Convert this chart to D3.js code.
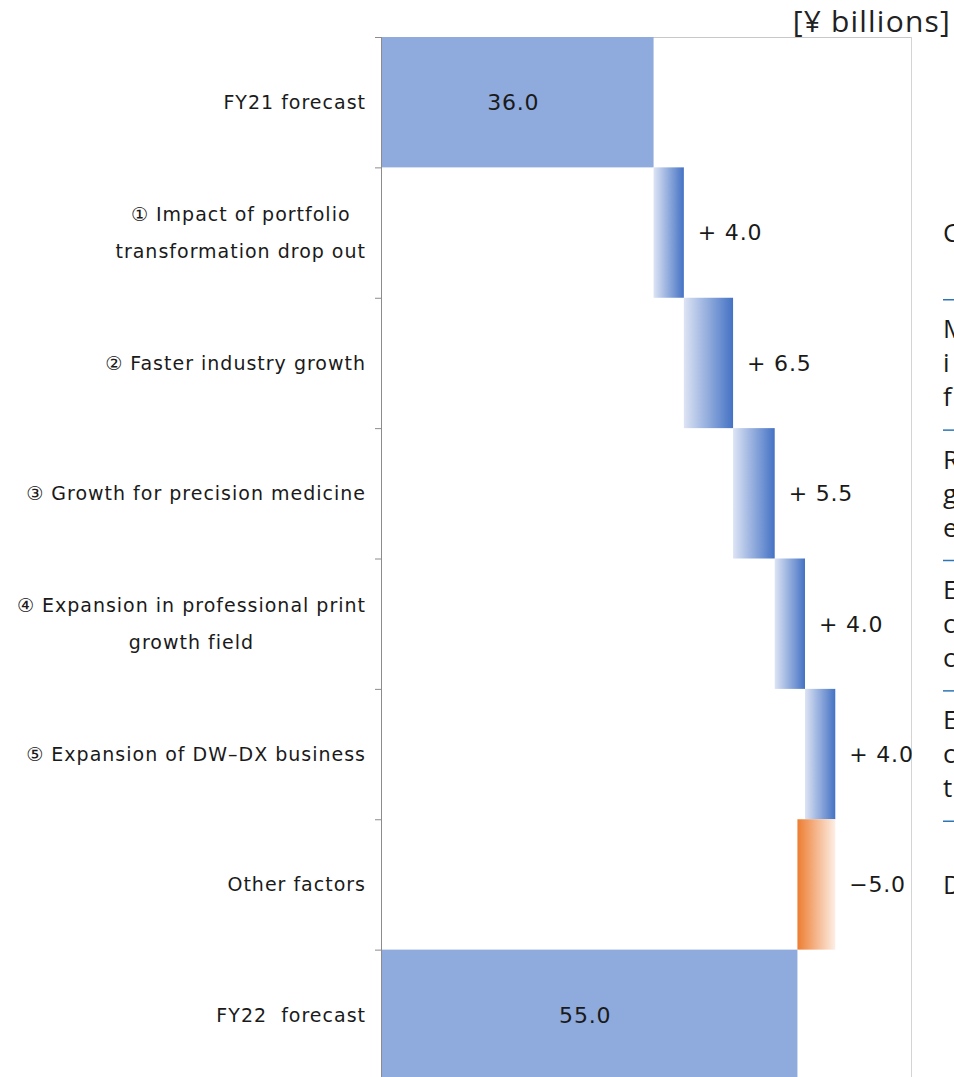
<!DOCTYPE html>
<html>
<head>
<meta charset="utf-8">
<script src="https://cdn.jsdelivr.net/npm/d3@7"></script>
<style>
  html, body { margin: 0; padding: 0; background: #fff; overflow: hidden; }
  svg { display: block; }
</style>
</head>
<body>
<svg id="chart" width="954" height="1077"></svg>
<script>
// categories (each label can be split over several lines)
var categories = [
    ['FY21 forecast'],
    ['\u2460 Impact of portfolio', 'transformation drop out'],
    ['\u2461 Faster industry growth'],
    ['\u2462 Growth for precision medicine'],
    ['\u2463 Expansion in professional print', 'growth field'],
    ['\u2464 Expansion of DW\u2013DX business'],
    ['Other factors'],
    ['FY22\u00a0 forecast']
];
// 'total' bars start at zero, 'delta' bars float on the running sum
var kinds  = ['total', 'delta', 'delta', 'delta', 'delta', 'delta', 'delta', 'total'];
var values = [36.0, 4.0, 6.5, 5.5, 4.0, 4.0, -5.0, 55.0];
var unit_label = '[\u00a5 billions]';

// text column on the right side, cut off by the page edge
var side_notes = [
    [], ['C'], ['M', 'i', 'f'], ['R', 'g', 'e'], ['E', 'c', 'c'], ['E', 'c', 't'], ['D'], []
];

var W = 954, H = 1077;
var margin = { left: 381, right: 911, top: 37, bottom: 1080 };
var label_font = '"DejaVu Sans", sans-serif';
var num_font = '"DejaVu Sans", sans-serif';

var svg = d3.select('#chart');

// build floating bars
var bars = [];
var running = 0;
values.forEach((v, i) => {
    if (kinds[i] == 'total') {
        bars.push({ i: i, x0: 0, x1: v, v: v, kind: 'total' });
        running = v;
    } else {
        var a = running, b = running + v;
        bars.push({ i: i, x0: Math.min(a, b), x1: Math.max(a, b), v: v,
                    kind: v >= 0 ? 'up' : 'down' });
        running = b;
    }
});

var x = d3.scaleLinear().domain([0, 70]).range([margin.left, margin.right]);
var y = d3.scaleBand()
    .domain(d3.range(categories.length))
    .range([margin.top, margin.bottom])
    .padding(0);

var defs = svg.append('defs');
var gUp = defs.append('linearGradient').attr('id', 'grad-up')
    .attr('x1', '0%').attr('x2', '100%').attr('y1', '0%').attr('y2', '0%');
gUp.append('stop').attr('offset', '0%').attr('stop-color', '#dde4f4');
gUp.append('stop').attr('offset', '100%').attr('stop-color', '#4472c4');
var gDown = defs.append('linearGradient').attr('id', 'grad-down')
    .attr('x1', '0%').attr('x2', '100%').attr('y1', '0%').attr('y2', '0%');
gDown.append('stop').attr('offset', '0%').attr('stop-color', '#ed7d31');
gDown.append('stop').attr('offset', '100%').attr('stop-color', '#fdeee5');

var fills = { total: '#8faadc', up: 'url(#grad-up)', down: 'url(#grad-down)' };

// plot frame: top and right border
svg.append('line')
    .attr('x1', x(0)).attr('x2', x(70))
    .attr('y1', margin.top + 0.5).attr('y2', margin.top + 0.5)
    .attr('stroke', '#c8c8c8');
svg.append('line')
    .attr('x1', x(70) + 0.5).attr('x2', x(70) + 0.5)
    .attr('y1', margin.top).attr('y2', H)
    .attr('stroke', '#d4d4d4');

svg.append('g')
    .selectAll('rect')
    .data(bars)
    .join('rect')
    .attr('x', d => x(d.x0))
    .attr('y', d => y(d.i))
    .attr('width', d => x(d.x1) - x(d.x0))
    .attr('height', y.bandwidth())
    .attr('fill', d => fills[d.kind]);

// value labels
var fmt = d3.format('.1f');
svg.append('g')
    .attr('font-family', num_font)
    .attr('font-size', 22)
    .attr('letter-spacing', 0.8)
    .attr('fill', '#1a1a1a')
    .selectAll('text')
    .data(bars)
    .join('text')
    .attr('x', d => d.kind == 'total' ? (x(d.x0) + x(d.x1)) / 2 - 4 : x(d.x1) + 14)
    .attr('y', d => y(d.i) + y.bandwidth() / 2)
    .attr('dy', '0.36em')
    .attr('text-anchor', d => d.kind == 'total' ? 'middle' : 'start')
    .text(d => d.kind == 'total' ? fmt(d.v)
               : (d.v >= 0 ? '+ ' + fmt(d.v) : '\u2212' + fmt(-d.v)));

// category axis on the left
var axis = svg.append('g');
axis.append('line')
    .attr('x1', x(0) + 0.5).attr('x2', x(0) + 0.5)
    .attr('y1', margin.top).attr('y2', H)
    .attr('stroke', '#8c8c8c');
axis.selectAll('line.tick')
    .data(d3.range(categories.length))
    .join('line')
    .attr('class', 'tick')
    .attr('x1', x(0) - 6).attr('x2', x(0))
    .attr('y1', d => y(d) + 0.5).attr('y2', d => y(d) + 0.5)
    .attr('stroke', '#8c8c8c');

var line_h = 37;
axis.selectAll('text')
    .data(categories)
    .join('text')
    .attr('font-family', label_font)
    .attr('font-size', 19)
    .attr('letter-spacing', 1)
    .attr('fill', '#1a1a1a')
    .each(function(lines, i) {
        var t = d3.select(this);
        var cy = y(i) + y.bandwidth() / 2 - (lines.length - 1) * line_h / 2;
        lines.forEach((s, k) => {
            t.append('tspan')
                .attr('x', 366)
                .attr('text-anchor', 'end')
                .attr('y', cy + k * line_h)
                .attr('dy', '0.36em')
                .text(s);
        });
    });

// for two line labels the lines are centred on each other
axis.selectAll('text').each(function(lines) {
    if (lines.length < 2) return;
    var spans = d3.select(this).selectAll('tspan').nodes();
    var w = d3.max(spans, n => n.getComputedTextLength());
    spans.forEach(n => {
        d3.select(n).attr('text-anchor', 'middle').attr('x', 366 - w / 2);
    });
});

// unit
svg.append('text')
    .attr('x', 951).attr('y', 32)
    .attr('text-anchor', 'end')
    .attr('font-family', '"Open Sans", sans-serif')
    .attr('font-size', 30)
    .attr('letter-spacing', 1.2)
    .attr('fill', '#222')
    .text(unit_label);

// right hand notes with blue separators
var notes = svg.append('g')
    .attr('font-family', '"Open Sans", sans-serif')
    .attr('font-size', 26)
    .attr('fill', '#1a1a1a');
side_notes.forEach((lines, i) => {
    var cy = y(i) + y.bandwidth() / 2 - (lines.length - 1) * 34 / 2;
    lines.forEach((s, k) => {
        notes.append('text')
            .attr('x', 943)
            .attr('y', cy + k * 34)
            .attr('dy', '0.36em')
            .text(s);
    });
});
notes.selectAll('line')
    .data(d3.range(2, 7))
    .join('line')
    .attr('x1', 943).attr('x2', W)
    .attr('y1', d => y(d) + 2).attr('y2', d => y(d) + 2)
    .attr('stroke', '#2e75b6')
    .attr('stroke-width', 1.5);
</script>
</body>
</html>
